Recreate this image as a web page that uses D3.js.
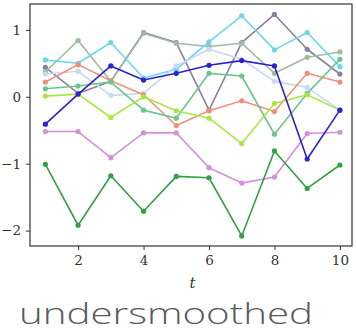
<!DOCTYPE html>
<html>
<head>
<meta charset="utf-8">
<script src="https://cdn.jsdelivr.net/npm/d3@7"></script>
<style>
  html, body { margin: 0; padding: 0; background: #fff; }
  svg { display: block; }
</style>
</head>
<body>
<svg id="chart" width="356" height="332"></svg>
<script>
// time steps
const t = [1, 2, 3, 4, 5, 6, 7, 8, 9, 10];

// one array per trajectory
const purpleGrey = [0.44, 0.05, 0.23, 0.96, 0.81, -0.20, 0.81, 1.23, 0.71, 0.34];
const greyGreen  = [0.37, 0.84, 0.23, 0.95, 0.80, 0.75, 0.80, 0.35, 0.59, 0.67];
const cyan       = [0.55, 0.50, 0.81, 0.28, 0.41, 0.82, 1.21, 0.70, 0.96, 0.45];
const lightBlue  = [0.34, 0.38, 0.02, 0.05, 0.46, 0.71, 0.56, 0.23, 0.14, -0.20];
const salmon     = [0.22, 0.48, 0.24, 0.03, -0.43, -0.21, -0.06, -0.22, 0.35, 0.22];
const midGreen   = [0.12, 0.16, 0.22, -0.20, -0.32, 0.35, 0.31, -0.56, 0.05, 0.56];
const limeGreen  = [0.01, 0.04, -0.31, 0.00, -0.21, -0.32, -0.70, -0.10, 0.03, -0.20];
const orchid     = [-0.52, -0.52, -0.91, -0.54, -0.54, -1.06, -1.29, -1.20, -0.55, -0.53];
const darkGreen  = [-1.01, -1.92, -1.18, -1.71, -1.19, -1.21, -2.08, -0.81, -1.37, -1.02];
const blue       = [-0.41, 0.04, 0.46, 0.25, 0.35, 0.47, 0.54, 0.46, -0.93, -0.20];

const xTicks = [2, 4, 6, 8, 10];
const yTicks = [-2, -1, 0, 1];

const series = [
  { values: purpleGrey, color: "#8d7f9e" },
  { values: greyGreen,  color: "#a2b9a2" },
  { values: cyan,       color: "#6cd7ea" },
  { values: lightBlue,  color: "#c6d9f4" },
  { values: salmon,     color: "#f0907c" },
  { values: midGreen,   color: "#6cc48e" },
  { values: limeGreen,  color: "#a9e844" },
  { values: orchid,     color: "#d58fdb" },
  { values: darkGreen,  color: "#34a044" },
  { values: blue,       color: "#2b22c8" }
];

const svg = d3.select("#chart");
const plotLeft = 30, plotRight = 352, plotTop = 4, plotBottom = 246;

const x = d3.scaleLinear().domain([0.53, 10.37]).range([plotLeft, plotRight]);
const y = d3.scaleLinear().domain([-2.23, 1.386]).range([plotBottom, plotTop]);

const plot = svg.append("g");
const line = d3.line().x((d, i) => x(t[i])).y(d => y(d));

series.forEach(s => {
  plot.append("path")
    .datum(s.values)
    .attr("d", line)
    .attr("fill", "none")
    .attr("stroke", s.color)
    .attr("stroke-width", 1.6)
    .attr("stroke-linejoin", "round");
  plot.selectAll(null)
    .data(s.values)
    .enter().append("circle")
    .attr("cx", (d, i) => x(t[i]))
    .attr("cy", d => y(d))
    .attr("r", 2.6)
    .attr("fill", s.color);
});

// frame
svg.append("rect")
  .attr("x", plotLeft).attr("y", plotTop)
  .attr("width", plotRight - plotLeft).attr("height", plotBottom - plotTop)
  .attr("fill", "none")
  .attr("stroke", "#333")
  .attr("stroke-width", 1.2);

const tickFont = "'DejaVu Serif', 'Liberation Serif', serif";

// x axis
const xAxis = svg.append("g")
  .attr("transform", `translate(0,${plotBottom})`)
  .call(d3.axisBottom(x).tickValues(xTicks).tickSize(4).tickPadding(5).tickFormat(d3.format("d")));
xAxis.select(".domain").remove();
xAxis.selectAll("line").attr("stroke", "#333");
xAxis.selectAll("text").attr("font-family", tickFont).attr("font-size", 13.5).attr("fill", "#333");

// y axis
const yAxis = svg.append("g")
  .attr("transform", `translate(${plotLeft},0)`)
  .call(d3.axisLeft(y).tickValues(yTicks).tickSize(4).tickPadding(5).tickFormat(d3.format("d")));
yAxis.select(".domain").remove();
yAxis.selectAll("line").attr("stroke", "#333");
yAxis.selectAll("text").attr("font-family", tickFont).attr("font-size", 13.5).attr("fill", "#333");

// axis title
svg.append("text")
  .attr("x", x(5.5)).attr("y", 288)
  .attr("text-anchor", "middle")
  .attr("font-family", tickFont)
  .attr("font-style", "italic")
  .attr("font-size", 15)
  .attr("fill", "#333")
  .text("t");

// caption
svg.append("text")
  .attr("x", 19).attr("y", 324)
  .attr("font-family", "'Open Sans', sans-serif")
  .attr("font-weight", 300)
  .attr("font-size", 30)
  .attr("textLength", 294)
  .attr("lengthAdjust", "spacingAndGlyphs")
  .attr("fill", "#5a5a5a")
  .text("undersmoothed");
</script>
</body>
</html>
